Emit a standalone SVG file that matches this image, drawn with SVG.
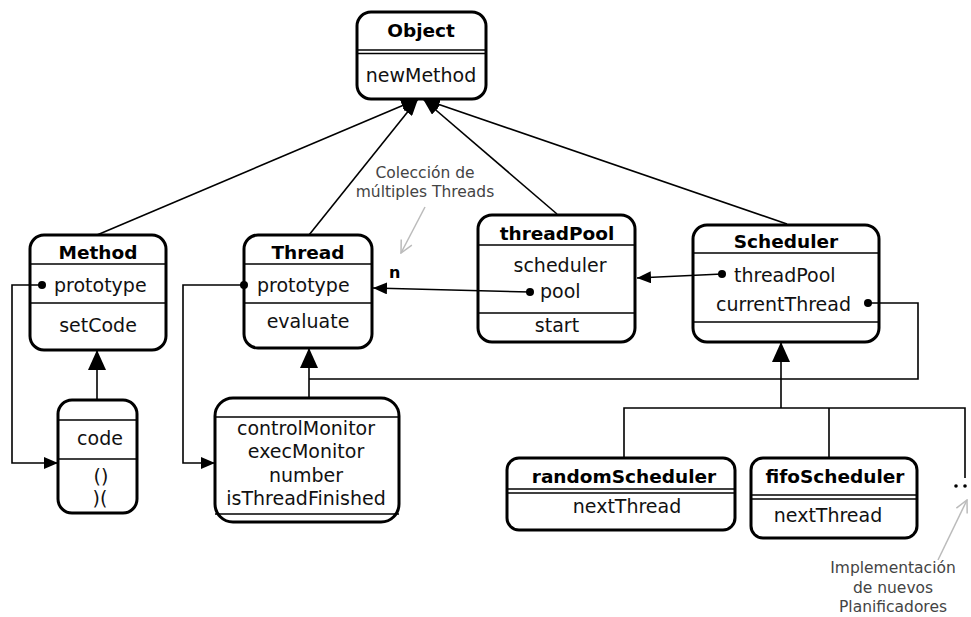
<svg xmlns="http://www.w3.org/2000/svg" width="971" height="617" viewBox="0 0 971 617">
<style>
.box{fill:#fff;stroke:#000;stroke-width:3}
.sep{stroke:#000;stroke-width:1.5;fill:none}
.t{font-family:"DejaVu Sans",Verdana,sans-serif;font-size:19px;fill:#111}
.b{font-family:"DejaVu Sans",Verdana,sans-serif;font-size:18.5px;font-weight:bold;fill:#000}
.c{text-anchor:middle}
.note{font-family:"DejaVu Sans",Verdana,sans-serif;font-size:15.5px;fill:#444;text-anchor:middle}
.ln{stroke:#000;stroke-width:1.6;fill:none}
.gl{stroke:#bbb;stroke-width:1.5;fill:none}
</style>
<defs>
<marker id="tri" markerWidth="17" markerHeight="12" refX="17" refY="6" orient="auto" markerUnits="userSpaceOnUse"><path d="M0,0 L17,6 L0,12 z" fill="#000"/></marker>
<marker id="inh" markerWidth="20" markerHeight="18" refX="20" refY="9" orient="auto" markerUnits="userSpaceOnUse"><path d="M0,0 L20,9 L0,18 z" fill="#000"/></marker>
<marker id="small" markerWidth="14" markerHeight="12" refX="14" refY="6" orient="auto" markerUnits="userSpaceOnUse"><path d="M0,0 L14,6 L0,12 z" fill="#000"/></marker>
<marker id="open" markerWidth="14" markerHeight="14" refX="13" refY="7" orient="auto" markerUnits="userSpaceOnUse"><path d="M1,1 L13,7 L1,13" fill="none" stroke="#bbb" stroke-width="1.5"/></marker>
</defs>

<g id="Object">
<rect class="box" x="357" y="12" width="129" height="87" rx="14"/>
<text x="421" y="37" class="b c">Object</text>
<line class="sep" x1="357" y1="50" x2="486" y2="50"/>
<line class="sep" x1="357" y1="53.5" x2="486" y2="53.5"/>
<text x="421" y="82" class="t c">newMethod</text>
</g>

<g id="Method">
<rect class="box" x="30" y="235" width="136" height="115" rx="14"/>
<text x="98" y="259" class="b c">Method</text>
<line class="sep" x1="30" y1="264" x2="166" y2="264"/>
<text x="54" y="292" class="t">prototype</text>
<line class="sep" x1="30" y1="303" x2="166" y2="303"/>
<text x="98" y="332" class="t c">setCode</text>
</g>

<g id="Thread">
<rect class="box" x="244" y="235" width="128" height="113" rx="14"/>
<text x="308" y="259" class="b c">Thread</text>
<line class="sep" x1="244" y1="264" x2="372" y2="264"/>
<text x="257" y="292" class="t">prototype</text>
<line class="sep" x1="244" y1="303" x2="372" y2="303"/>
<text x="308" y="328" class="t c">evaluate</text>
</g>

<g id="threadPool">
<rect class="box" x="478" y="215" width="157" height="127" rx="14"/>
<text x="557" y="240" class="b c">threadPool</text>
<line class="sep" x1="478" y1="245" x2="635" y2="245"/>
<text x="560" y="272" class="t c">scheduler</text>
<text x="540" y="298" class="t">pool</text>
<line class="sep" x1="478" y1="313" x2="635" y2="313"/>
<text x="557" y="332" class="t c">start</text>
</g>

<g id="Scheduler">
<rect class="box" x="693" y="225" width="186" height="117" rx="14"/>
<text x="786" y="248" class="b c">Scheduler</text>
<line class="sep" x1="693" y1="253" x2="879" y2="253"/>
<text x="734" y="282" class="t">threadPool</text>
<text x="716" y="311" class="t">currentThread</text>
<line class="sep" x1="693" y1="322" x2="879" y2="322"/>
</g>

<g id="codeClass">
<rect class="box" x="58" y="400" width="79" height="113" rx="14"/>
<line class="sep" x1="58" y1="420" x2="137" y2="420"/>
<text x="100" y="445" class="t c">code</text>
<line class="sep" x1="58" y1="459" x2="137" y2="459"/>
<text x="101" y="483" class="t c">()</text>
<text x="100" y="505" class="t c">)(</text>
</g>

<g id="threadImpl">
<rect class="box" x="215" y="398" width="184" height="124" rx="18"/>
<line class="sep" x1="215" y1="417" x2="399" y2="417"/>
<text x="306" y="435" class="t c">controlMonitor</text>
<text x="306" y="458" class="t c">execMonitor</text>
<text x="306" y="482" class="t c">number</text>
<text x="306" y="505" class="t c">isThreadFinished</text>
<line class="sep" x1="215" y1="514" x2="399" y2="514"/>
</g>

<g id="randomScheduler">
<rect class="box" x="507" y="458" width="228" height="72" rx="12"/>
<text x="624" y="483" class="b c">randomScheduler</text>
<line class="sep" x1="507" y1="489" x2="735" y2="489"/>
<line class="sep" x1="507" y1="493" x2="735" y2="493"/>
<text x="627" y="513" class="t c">nextThread</text>
</g>

<g id="fifoScheduler">
<rect class="box" x="751" y="458" width="166" height="80" rx="12"/>
<text x="835" y="483" class="b c">fifoScheduler</text>
<line class="sep" x1="751" y1="495" x2="917" y2="495"/>
<line class="sep" x1="751" y1="499" x2="917" y2="499"/>
<text x="828" y="522" class="t c">nextThread</text>
</g>

<g id="more">
<circle cx="956" cy="486" r="1.8"/>
<circle cx="965" cy="486" r="1.8"/>
</g>

<g id="connectors">
<line class="ln" x1="97" y1="235" x2="418" y2="99" marker-end="url(#tri)"/>
<line class="ln" x1="309" y1="235" x2="418" y2="99" marker-end="url(#tri)"/>
<line class="ln" x1="557" y1="214" x2="423" y2="99" marker-end="url(#tri)"/>
<line class="ln" x1="787" y1="224" x2="423" y2="99" marker-end="url(#tri)"/>
<line class="ln" x1="97" y1="400" x2="97" y2="350" marker-end="url(#inh)"/>
<line class="ln" x1="309" y1="398" x2="309" y2="348" marker-end="url(#inh)"/>
<line class="ln" x1="781" y1="408" x2="781" y2="342" marker-end="url(#inh)"/>
<path class="ln" d="M624,458 V408 H965 V478 M829,408 V458"/>
<path class="ln" d="M868,303 H918 V379 H309"/>
<path class="ln" d="M42,285 H12 V463 H58" marker-end="url(#small)"/>
<path class="ln" d="M244,285 H183 V463 H215" marker-end="url(#small)"/>
<line class="ln" x1="530" y1="292" x2="373" y2="288" marker-end="url(#small)"/>
<line class="ln" x1="722" y1="274" x2="637" y2="278" marker-end="url(#small)"/>
<circle cx="42" cy="285" r="4"/>
<circle cx="244" cy="285" r="4"/>
<circle cx="530" cy="292" r="4"/>
<circle cx="722" cy="274" r="4"/>
<circle cx="868" cy="303" r="4"/>
<text x="389" y="278" class="b" style="font-size:16px">n</text>
</g>

<g id="notes">
<text x="425" y="178" class="note">Colección de</text>
<text x="425" y="197" class="note">múltiples Threads</text>
<line class="gl" x1="425" y1="207" x2="401" y2="253" marker-end="url(#open)"/>
<text x="893" y="573" class="note">Implementación</text>
<text x="893" y="593" class="note">de nuevos</text>
<text x="893" y="612" class="note">Planificadores</text>
<line class="gl" x1="938" y1="560" x2="967" y2="500" marker-end="url(#open)"/>
</g>
</svg>
